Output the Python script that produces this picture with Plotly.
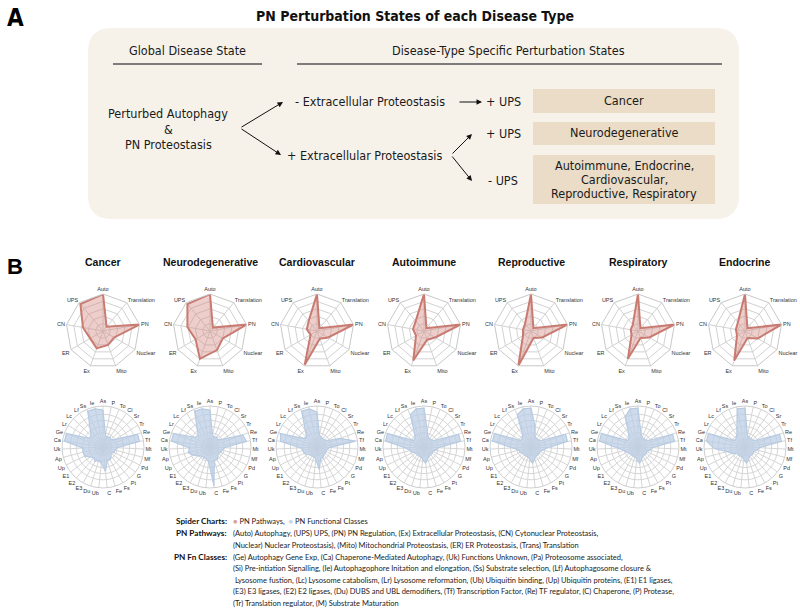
import plotly.graph_objects as go

W, H = 800, 613

# ---------------- data ----------------
diseases = ["Cancer", "Neurodegenerative", "Cardiovascular", "Autoimmune",
            "Reproductive", "Respiratory", "Endocrine"]

pathways = ["Auto", "Translation", "PN", "Nuclear", "Mito", "Ex", "ER", "CN", "UPS"]
path_cancer = [1.0, 0.15, 1.0, 0.35, 0.40, 0.50, 0.40, 0.55, 0.95]
path_neuro = [1.0, 0.12, 1.0, 0.40, 0.55, 0.80, 0.45, 0.62, 0.95]
path_cardio = [1.0, 0.10, 1.0, 0.35, 0.22, 0.97, 0.20, 0.28, 0.35]
path_autoimm = [1.0, 0.10, 1.0, 0.35, 0.25, 0.85, 0.25, 0.30, 0.35]
path_repro = [1.0, 0.10, 1.0, 0.35, 0.20, 1.00, 0.25, 0.22, 0.25]
path_resp = [1.0, 0.10, 1.0, 0.35, 0.20, 0.80, 0.20, 0.20, 0.22]
path_endo = [1.0, 0.10, 1.0, 0.40, 0.20, 0.85, 0.25, 0.25, 0.30]

fn_classes = ["As", "P", "To", "Cl", "Sr", "Tr", "Re", "Tf", "Mt", "Mf", "Pd", "G",
              "Pt", "Fs", "Fe", "C", "Ub", "Du", "E3", "E2", "E1", "Up", "Ap", "Uk",
              "Ca", "Ge", "Lr", "Lc", "Lf", "Ss", "Ie"]
fn_cancer = [0.90, 0.30, 0.25, 0.30, 0.25, 0.35, 0.90, 0.90, 0.35, 0.30, 0.30, 0.25,
             0.30, 0.35, 0.35, 0.60, 0.40, 0.35, 0.40, 0.35, 0.40, 0.50, 0.50, 0.50,
             0.95, 0.95, 0.40, 0.40, 0.55, 0.95, 0.95]
fn_neuro = [0.90, 0.30, 0.25, 0.30, 0.25, 0.35, 0.85, 0.90, 0.35, 0.30, 0.30, 0.25,
            0.30, 0.35, 0.35, 0.95, 0.35, 0.30, 0.30, 0.30, 0.35, 0.45, 0.55, 0.50,
            0.95, 0.95, 0.45, 0.40, 0.55, 0.95, 0.95]
fn_cardio = [0.85, 0.30, 0.25, 0.25, 0.25, 0.30, 0.60, 0.95, 0.30, 0.25, 0.25, 0.25,
             0.25, 0.30, 0.30, 0.55, 0.30, 0.25, 0.25, 0.25, 0.30, 0.35, 0.35, 0.40,
             0.90, 0.95, 0.40, 0.35, 0.50, 0.95, 0.95]
fn_autoimm = [0.95, 0.40, 0.25, 0.25, 0.25, 0.30, 0.90, 0.90, 0.35, 0.30, 0.25, 0.25,
              0.25, 0.25, 0.30, 0.40, 0.30, 0.25, 0.25, 0.25, 0.25, 0.30, 0.35, 0.45,
              0.95, 0.95, 0.30, 0.30, 0.40, 0.85, 0.95]
fn_repro = [0.95, 0.50, 0.25, 0.25, 0.25, 0.30, 0.90, 0.90, 0.40, 0.30, 0.25, 0.25,
            0.25, 0.25, 0.30, 0.40, 0.30, 0.25, 0.25, 0.25, 0.25, 0.30, 0.30, 0.45,
            0.95, 0.95, 0.30, 0.30, 0.35, 0.85, 0.95]
fn_resp = [0.95, 0.35, 0.25, 0.25, 0.25, 0.30, 0.90, 0.90, 0.35, 0.30, 0.25, 0.25,
           0.25, 0.25, 0.30, 0.40, 0.30, 0.25, 0.25, 0.25, 0.25, 0.30, 0.35, 0.50,
           0.95, 0.95, 0.30, 0.30, 0.40, 0.80, 0.95]
fn_endo = [0.95, 0.30, 0.25, 0.25, 0.25, 0.30, 0.90, 0.90, 0.35, 0.30, 0.25, 0.25,
           0.25, 0.25, 0.30, 0.40, 0.30, 0.25, 0.25, 0.25, 0.25, 0.35, 0.45, 0.75,
           0.95, 0.95, 0.30, 0.30, 0.35, 0.50, 0.95]

path_values = [path_cancer, path_neuro, path_cardio, path_autoimm, path_repro, path_resp, path_endo]
fn_values = [fn_cancer, fn_neuro, fn_cardio, fn_autoimm, fn_repro, fn_resp, fn_endo]

# ---------------- helpers ----------------
NARROW = "Liberation Sans Narrow, DejaVu Sans Condensed, Arial Narrow, sans-serif"
SANS = "Liberation Sans, Arial, sans-serif"
LEG = "Lato, Calibri, sans-serif"


def px(x):
    return x / W


def py(y):
    return 1 - y / H


annotations = []
shapes = []


def text(x, y, s, size=12, family=NARROW, color="#1a1a1a", xanchor="center", yanchor="middle", bold=False):
    if bold:
        s = "<b>" + s + "</b>"
    annotations.append(dict(x=px(x), y=py(y), xref="paper", yref="paper", text=s, showarrow=False,
                            xanchor=xanchor, yanchor=yanchor, borderpad=0,
                            font=dict(size=size, family=family, color=color)))


def arrow(x0, y0, x1, y1):
    annotations.append(dict(x=px(x1), y=py(y1), xref="paper", yref="paper", text="",
                            showarrow=True, axref="pixel", ayref="pixel",
                            ax=x0 - x1, ay=y0 - y1, arrowhead=2, arrowsize=1.1,
                            arrowwidth=1, arrowcolor="#111111", standoff=0))


def rect(x0, y0, x1, y1, fill):
    shapes.append(dict(type="rect", xref="paper", yref="paper", x0=px(x0), x1=px(x1),
                       y0=py(y1), y1=py(y0), fillcolor=fill, line=dict(width=0), layer="below"))


def line(x0, y0, x1, y1, color="#555555", width=1.5):
    shapes.append(dict(type="line", xref="paper", yref="paper", x0=px(x0), x1=px(x1),
                       y0=py(y0), y1=py(y1), line=dict(color=color, width=width)))


def rounded(x0, y0, x1, y1, r, fill):
    pts = (f"M {px(x0 + r)},{py(y0)} L {px(x1 - r)},{py(y0)} Q {px(x1)},{py(y0)} {px(x1)},{py(y0 + r)} "
           f"L {px(x1)},{py(y1 - r)} Q {px(x1)},{py(y1)} {px(x1 - r)},{py(y1)} "
           f"L {px(x0 + r)},{py(y1)} Q {px(x0)},{py(y1)} {px(x0)},{py(y1 - r)} "
           f"L {px(x0)},{py(y0 + r)} Q {px(x0)},{py(y0)} {px(x0 + r)},{py(y0)} Z")
    shapes.append(dict(type="path", xref="paper", yref="paper", path=pts, fillcolor=fill,
                       line=dict(width=0), layer="below"))


# ---------------- panel A ----------------
text(15, 18, "A", size=24, family=NARROW, bold=True, color="#000")
text(415, 16, "PN Perturbation States of each Disease Type", size=14, bold=True, color="#111")
rounded(88, 28, 739, 219, 24, "#f6f2ea")
text(187, 51, "Global Disease State", size=12.5)
line(113, 64, 262, 64)
text(508, 51, "Disease-Type Specific Perturbation States", size=12.5)
line(297, 64, 722, 64)

text(168, 114, "Perturbed Autophagy", size=12.5)
text(168, 129, "&", size=12.5)
text(168, 144, "PN Proteostasis", size=12.5)
arrow(240, 128, 283, 102)
arrow(240, 128, 281, 155)

text(370, 102, "- Extracellular Proteostasis", size=12.5)
arrow(458, 102, 482, 102)
text(503, 102, "+ UPS", size=12.5)
rect(533, 89, 715, 113, "#eadcc6")
text(624, 101, "Cancer", size=12.5)

text(503, 134, "+ UPS", size=12.5)
rect(533, 122, 715, 145, "#eadcc6")
text(624, 133, "Neurodegenerative", size=12.5)

text(364, 155, "+ Extracellular Proteostasis", size=12.5)
arrow(451, 155, 472, 134)
arrow(451, 155, 472, 181)
text(503, 180, "- UPS", size=12.5)
rect(533, 155, 715, 204, "#eadcc6")
text(624, 165, "Autoimmune, Endocrine,", size=12.5)
text(624, 179, "Cardiovascular,", size=12.5)
text(624, 193, "Reproductive, Respiratory", size=12.5)

# ---------------- panel B ----------------
text(15, 266, "B", size=22, family=SANS, bold=True, color="#000")

centers = [103, 210, 317, 424, 531, 638, 745]
RED_CY, RED_R = 331, 37
BLUE_CY, BLUE_R = 447, 41

fig = go.Figure()
layout_polars = {}


def dom(cx, cy, r):
    return dict(x=[px(cx - r), px(cx + r)], y=[py(cy + r), py(cy - r)])


k = 0
for i, name in enumerate(diseases):
    cx = centers[i]
    text(cx, 262, name, size=10.5, family=SANS, bold=True, color="#111")

    # red pathways chart
    k += 1
    pid = "polar" if k == 1 else f"polar{k}"
    vals = path_values[i]
    fig.add_trace(go.Scatterpolar(r=vals + [vals[0]], theta=pathways + [pathways[0]],
                                  mode="lines", fill="toself",
                                  fillcolor="rgba(214,138,128,0.42)",
                                  line=dict(color="#c97b72", width=2),
                                  subplot=pid, showlegend=False, hoverinfo="skip"))
    layout_polars[pid] = dict(
        domain=dom(cx, RED_CY, RED_R), bgcolor="rgba(0,0,0,0)", gridshape="linear",
        angularaxis=dict(rotation=90, direction="clockwise", tickfont=dict(size=5.5, color="#333", family=SANS),
                         gridcolor="#d2d2d2", linecolor="#c8c8c8", showline=True, ticks="",
                         categoryorder="array", categoryarray=pathways),
        radialaxis=dict(range=[0, 1], tickvals=[0.2, 0.4, 0.6, 0.8, 1.0], showticklabels=False,
                        ticks="", gridcolor="#d2d2d2", showline=False),
    )

    # blue functional classes chart
    k += 1
    pid = f"polar{k}"
    vals = fn_values[i]
    fig.add_trace(go.Scatterpolar(r=vals + [vals[0]], theta=fn_classes + [fn_classes[0]],
                                  mode="lines", fill="toself",
                                  fillcolor="rgba(186,205,228,0.72)",
                                  line=dict(color="#b7cbe2", width=1.2),
                                  subplot=pid, showlegend=False, hoverinfo="skip"))
    layout_polars[pid] = dict(
        domain=dom(cx, BLUE_CY, BLUE_R), bgcolor="rgba(0,0,0,0)", gridshape="circular",
        angularaxis=dict(rotation=90, direction="clockwise", tickfont=dict(size=5.5, color="#333", family=SANS),
                         gridcolor="#d6d6d6", linecolor="#cfcfcf", showline=True, ticks="",
                         categoryorder="array", categoryarray=fn_classes),
        radialaxis=dict(range=[0, 1], tickvals=[0.2, 0.35, 0.5, 0.65, 0.8, 1.0], showticklabels=False,
                        ticks="", gridcolor="#d6d6d6", showline=False),
    )

# ---------------- legend text ----------------
LX = 228
TX = 232
leg_rows = [
    (521, "Spider Charts:", '<span style="color:#d9a29b">●</span> PN Pathways,  '
                            '<span style="color:#c6d5e8">●</span> PN Functional Classes'),
    (533, "PN Pathways:", "(Auto) Autophagy, (UPS) UPS, (PN) PN Regulation, (Ex) Extracellular Proteostasis, (CN) Cytonuclear Proteostasis,"),
    (545, "", "(Nuclear) Nuclear Proteostasis), (Mito) Mitochondrial Proteostasis, (ER) ER Proteostasis, (Trans) Translation"),
    (557, "PN Fn Classes:", "(Ge) Autophagy Gene Exp, (Ca) Chaperone-Mediated Autophagy, (Uk) Functions Unknown, (Pa) Proteosome associated,"),
    (568.5, "", "(Si) Pre-intiation Signalling, (Ie) Autophagophore Initation and elongation, (Ss) Substrate selection, (Lf) Autophagosome closure &"),
    (580, "", " Lysosome fustion, (Lc) Lysosome catabolism, (Lr) Lysosome reformation, (Ub) Ubiquitin binding, (Up) Ubiquitin proteins, (E1) E1 ligases,"),
    (591.5, "", "(E3) E3 ligases, (E2) E2 ligases, (Du) DUBS and UBL demodifiers, (Tf) Transcription Factor, (Re) TF regulator, (C) Chaperone, (P) Protease,"),
    (603, "", "(Tr) Translation regulator, (M) Substrate Maturation"),
]
for y, lab, body in leg_rows:
    if lab:
        text(LX, y, lab, size=8.2, family=LEG, bold=True, color="#111", xanchor="right")
    text(TX, y, body, size=7.5, family=LEG, color="#222", xanchor="left")

fig.update_layout(width=W, height=H, margin=dict(l=0, r=0, t=0, b=0),
                  paper_bgcolor="white", plot_bgcolor="white",
                  showlegend=False, annotations=annotations, shapes=shapes, **layout_polars)

fig.write_html("out.html", config={"displayModeBar": False},
               post_script="document.body.style.margin='0px';")
